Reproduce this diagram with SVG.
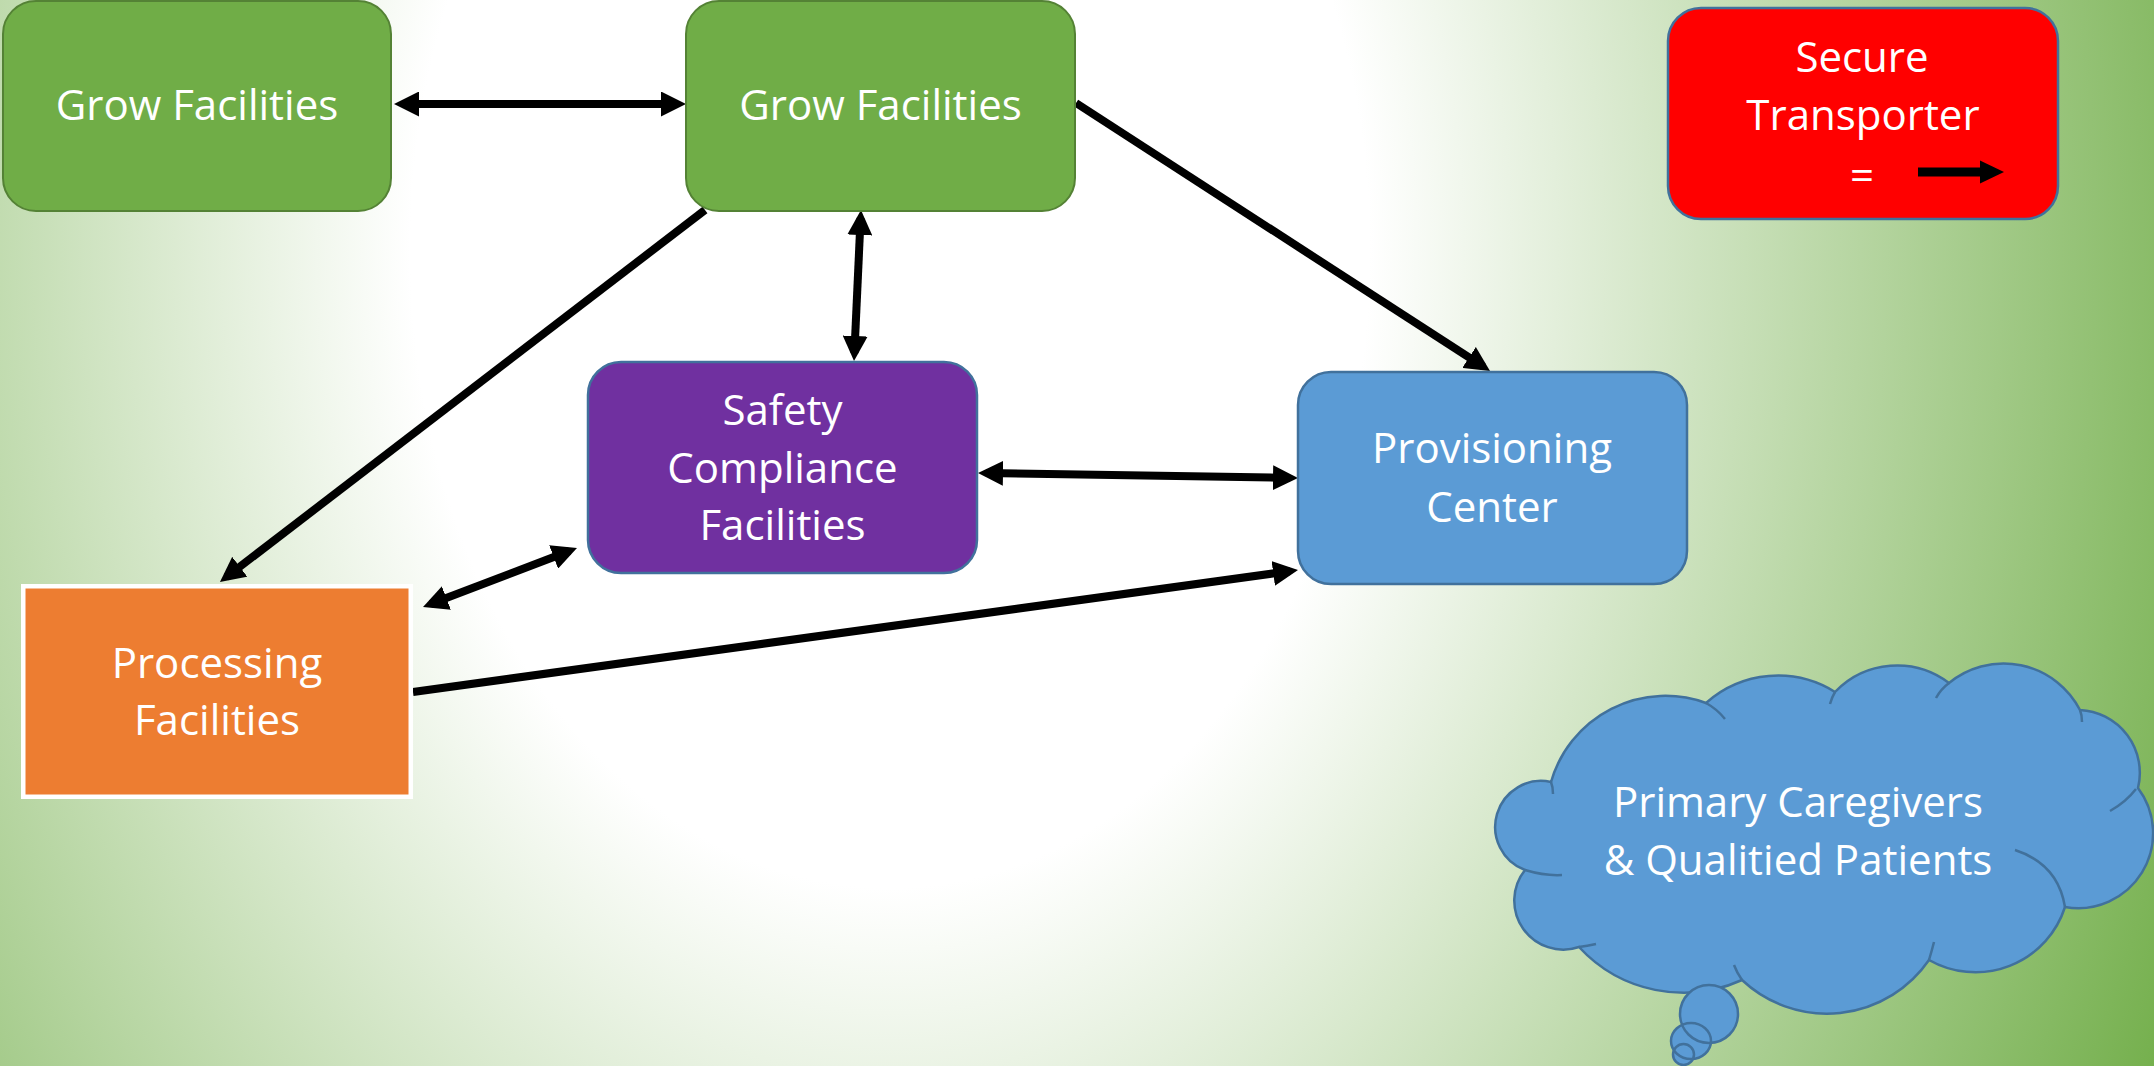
<svg xmlns="http://www.w3.org/2000/svg" width="2154" height="1066" viewBox="0 0 2154 1066">
<defs>
<radialGradient id="bg" gradientUnits="userSpaceOnUse" cx="0" cy="0" r="1440" gradientTransform="translate(890 250) scale(1 1.33)">
<stop offset="0" stop-color="#ffffff"/>
<stop offset="0.333" stop-color="#ffffff"/>
<stop offset="1" stop-color="#70AD47"/>
</radialGradient>
<marker id="ah" markerUnits="userSpaceOnUse" markerWidth="25" markerHeight="25" refX="17" refY="12.5" orient="auto-start-reverse" viewBox="0 0 25 25">
<path d="M0,0 L25,12.5 L0,25 Z" fill="#000"/>
</marker>
<style>
.t{font-family:"Open Sans","Liberation Sans",sans-serif;font-size:42px;fill:#ffffff;text-anchor:middle}
.green{fill:#70AD47;stroke:#548235;stroke-width:2}
.blue{fill:#5B9BD5;stroke:#41719C;stroke-width:2.5}
.purple{fill:#7030A0;stroke:#41719C;stroke-width:2.5}
.red{fill:#FF0000;stroke:#41719C;stroke-width:2.5}
.orange{fill:#ED7D31;stroke:#ffffff;stroke-width:4.5}
.con{stroke:#000;stroke-width:8;fill:none}
.cl{fill:none;stroke:#41719C;stroke-width:2.5}
</style>
</defs>
<rect x="0" y="0" width="2154" height="1066" fill="url(#bg)"/>

<g id="connectors">
<line class="con" x1="402" y1="104" x2="678" y2="104" marker-start="url(#ah)" marker-end="url(#ah)"/>
<line class="con" x1="1076" y1="103" x2="1483.3" y2="366.7" marker-end="url(#ah)"/>
<line class="con" x1="705" y1="210" x2="226.3" y2="577.1" marker-end="url(#ah)"/>
<line class="con" x1="860.6" y1="218" x2="854.4" y2="353" marker-start="url(#ah)" marker-end="url(#ah)"/>
<line class="con" x1="986" y1="473.1" x2="1290" y2="477.9" marker-start="url(#ah)" marker-end="url(#ah)"/>
<line class="con" x1="430.5" y1="604.1" x2="569.5" y2="550.9" marker-start="url(#ah)" marker-end="url(#ah)"/>
<line class="con" x1="413" y1="692" x2="1290.1" y2="571.1" marker-end="url(#ah)"/>
</g>

<g id="grow1">
<rect class="green" x="3" y="1" width="388" height="210" rx="33"/>
<text class="t" x="197" y="120">Grow Facilities</text>
</g>

<g id="grow2">
<rect class="green" x="686" y="1" width="389" height="210" rx="33"/>
<text class="t" x="880.5" y="120">Grow Facilities</text>
</g>

<g id="safety">
<rect class="purple" x="588" y="362" width="389" height="211" rx="33"/>
<text class="t" x="782.5" y="425">Safety</text>
<text class="t" x="782.5" y="483">Compliance</text>
<text class="t" x="782.5" y="540">Facilities</text>
</g>

<g id="provisioning">
<rect class="blue" x="1298" y="372" width="389" height="212" rx="33"/>
<text class="t" x="1492" y="463">Provisioning</text>
<text class="t" x="1492" y="522">Center</text>
</g>

<g id="processing">
<rect class="orange" x="23.25" y="586.25" width="387.5" height="210.5"/>
<text class="t" x="217" y="678">Processing</text>
<text class="t" x="217" y="735">Facilities</text>
</g>

<g id="legend">
<rect class="red" x="1668" y="8" width="390" height="211" rx="33"/>
<text class="t" x="1862" y="72">Secure</text>
<text class="t" x="1863" y="130">Transporter</text>
<text class="t" x="1862" y="190">=</text>
<line x1="1918" y1="172" x2="1984" y2="172" stroke="#000" stroke-width="9"/>
<path d="M1980,160.5 L2004,172 L1980,183.5 Z" fill="#000"/>
</g>

<g id="cloud">
<path fill="#5B9BD5" stroke="#41719C" stroke-width="2.5" d="M1525,870 A46,46 0 0 1 1551,782 A119,119 0 0 1 1706,703 A108,108 0 0 1 1835,692 A86,86 0 0 1 1949,683 A86,86 0 0 1 2080,710 A63,63 0 0 1 2138,788 A75,75 0 0 1 2065,907 A94,94 0 0 1 1929,960 A124,124 0 0 1 1742,980 A142,142 0 0 1 1579,947 A49,49 0 0 1 1525,870 Z"/>
<path class="cl" d="M1525,870 Q1545,876 1562,875 M1551,782 Q1553,787 1553,794 M1706,703 Q1717,709 1725,719 M1835,692 Q1832,697 1830,704 M1949,683 Q1941,689 1936,698 M2080,710 Q2082,715 2082,722 M2136,789 Q2126,802 2110,811 M2015,850 Q2058,864 2065,907 M1934,942 Q1932,950 1929,960 M1734,965 Q1737,973 1742,980 M1579,947 Q1587,946 1596,944"/>
<ellipse cx="1709" cy="1014" rx="29" ry="29" fill="#5B9BD5"/>
<ellipse cx="1691" cy="1041" rx="20" ry="18" fill="#5B9BD5"/>
<ellipse cx="1683.5" cy="1054.5" rx="10.5" ry="10.5" fill="#5B9BD5"/>
<ellipse class="cl" cx="1709" cy="1014" rx="29" ry="29"/>
<ellipse class="cl" cx="1691" cy="1041" rx="20" ry="18"/>
<ellipse class="cl" cx="1683.5" cy="1054.5" rx="10.5" ry="10.5"/>
<text class="t" x="1798" y="817">Primary Caregivers</text>
<text class="t" x="1798" y="875">&amp; Qualitied Patients</text>
</g>
</svg>
